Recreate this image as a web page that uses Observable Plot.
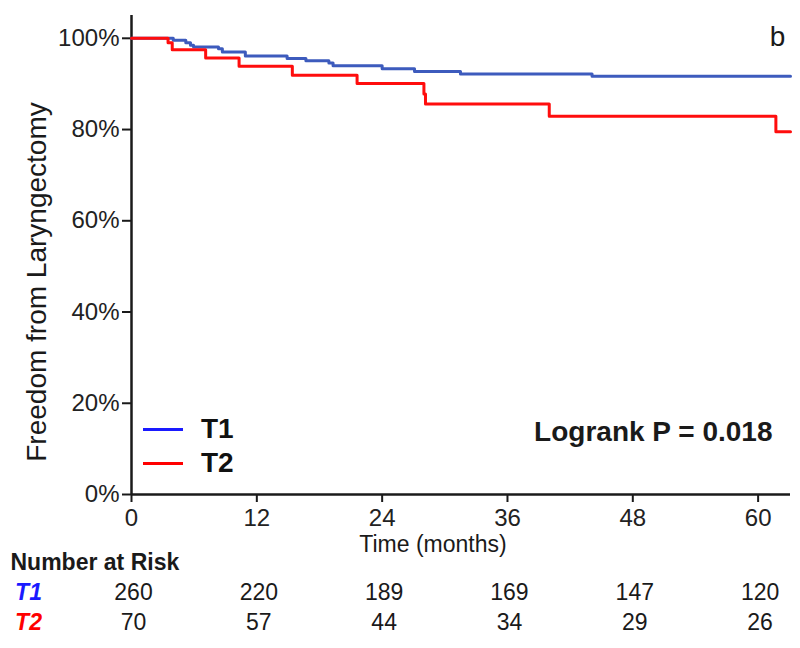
<!DOCTYPE html>
<html>
<head>
<meta charset="utf-8">
<script src="https://cdn.jsdelivr.net/npm/d3@7"></script>
<script src="https://cdn.jsdelivr.net/npm/@observablehq/plot@0.6"></script>
<style>
  html, body { margin: 0; padding: 0; background: #fff; }
  #wrap { position: relative; width: 800px; height: 648px; font-family: "Liberation Sans", Arial, sans-serif; }
  .lg-line { position: absolute; left: 143px; width: 40px; height: 3px; }
  .lg-text { position: absolute; left: 201px; font-size: 28px; font-weight: bold; line-height: 32px; color: #111; }
</style>
</head>
<body>
<div id="wrap"></div>
<script>
// ---- Data ----
const t1Times = [0, 4.0, 5.2, 5.65, 5.94, 8.33, 8.7, 10.9, 14.9, 16.7, 18.9, 19.3, 24.0, 27.1, 31.5, 44.1, 63.1];
const t1Surv  = [1, 0.996, 0.990, 0.985, 0.981, 0.977, 0.970, 0.961, 0.956, 0.951, 0.946, 0.940, 0.933, 0.927, 0.922, 0.917, 0.917];
const t2Times = [0, 3.5, 3.9, 7.1, 10.3, 15.4, 21.6, 28.0, 28.15, 40.0, 61.7, 63.1];
const t2Surv  = [1, 0.990, 0.975, 0.957, 0.939, 0.919, 0.901, 0.878, 0.856, 0.829, 0.795, 0.795];

const xTicks = [0, 12, 24, 36, 48, 60];
const yTicks = [0, 0.2, 0.4, 0.6, 0.8, 1.0];

const riskTimes = [0, 12, 24, 36, 48, 60];
const riskT1 = [260, 220, 189, 169, 147, 120];
const riskT2 = [70, 57, 44, 34, 29, 26];

const groupNames = ["T1", "T2"];
const pValueText = "Logrank P = 0.018";

// ---- Build tables ----
const s1 = t1Times.map((t, i) => ({t, s: t1Surv[i]}));
const s2 = t2Times.map((t, i) => ({t, s: t2Surv[i]}));

const blueCurve = "#3d5bbd";
const redCurve = "#ff0d0d";
const blueText = "#1a1aff";
const redText = "#ff0000";
const ink = "#1a1a1a";

const chart = Plot.plot({
  width: 800,
  height: 648,
  marginLeft: 131,
  marginRight: 10,
  marginTop: 15,
  marginBottom: 154,
  style: {fontFamily: "'Liberation Sans', Arial, sans-serif", fontSize: "23px", background: "white", color: ink},
  x: {domain: [0, 63.1]},
  y: {domain: [0, 1.05]},
  marks: [
    Plot.axisY({ticks: yTicks, tickFormat: d3.format(".0%"), tickSize: 9, tickPadding: 3, fontSize: 24, strokeWidth: 2, stroke: ink, fill: "#222", label: null}),
    Plot.axisX({ticks: xTicks, tickSize: 8, tickPadding: 6, fontSize: 24, strokeWidth: 2, stroke: ink, fill: "#222", label: null}),
    Plot.ruleX([0], {stroke: ink, strokeWidth: 2.5}),
    Plot.ruleY([0], {stroke: ink, strokeWidth: 2.5}),
    Plot.line(s1, {x: "t", y: "s", curve: "step-after", stroke: blueCurve, strokeWidth: 3}),
    Plot.line(s2, {x: "t", y: "s", curve: "step-after", stroke: redCurve, strokeWidth: 3}),
    // axis titles
    Plot.text(["Freedom from Laryngectomy"], {frameAnchor: "left", textAnchor: "middle", lineAnchor: "middle", rotate: -90, dx: -94, dy: 27, fontSize: 28, fill: ink}),
    Plot.text(["Time (months)"], {frameAnchor: "bottom", textAnchor: "middle", lineAnchor: "middle", dx: -28, dy: 50, fontSize: 23, fill: ink}),
    // panel letter & p-value
    Plot.text(["b"], {frameAnchor: "top-right", textAnchor: "middle", lineAnchor: "middle", dx: -13, dy: 22, fontSize: 28, fill: ink}),
    Plot.text([pValueText], {frameAnchor: "bottom-right", textAnchor: "end", lineAnchor: "middle", dx: -18, dy: -62, fontSize: 28, fontWeight: "bold", fill: ink}),
    // number at risk table
    Plot.text(["Number at Risk"], {frameAnchor: "bottom-left", textAnchor: "start", lineAnchor: "middle", dx: -121, dy: 68, fontSize: 23, fontWeight: "bold", fill: ink}),
    Plot.text([groupNames[0]], {frameAnchor: "bottom-left", textAnchor: "middle", lineAnchor: "middle", dx: -103, dy: 98, fontSize: 23, fontWeight: "bold", fontStyle: "italic", fill: blueText}),
    Plot.text([groupNames[1]], {frameAnchor: "bottom-left", textAnchor: "middle", lineAnchor: "middle", dx: -103, dy: 128, fontSize: 23, fontWeight: "bold", fontStyle: "italic", fill: redText}),
    Plot.text(riskTimes, {x: d => d, text: (d, i) => String(riskT1[i]), frameAnchor: "bottom", textAnchor: "middle", lineAnchor: "middle", dx: 2, dy: 98, fontSize: 23, fill: ink}),
    Plot.text(riskTimes, {x: d => d, text: (d, i) => String(riskT2[i]), frameAnchor: "bottom", textAnchor: "middle", lineAnchor: "middle", dx: 2, dy: 128, fontSize: 23, fill: ink})
  ]
});

const wrap = document.getElementById("wrap");
wrap.appendChild(chart);

// legend (inside plot area, lower left)
const legendColors = [blueText, redText];
const legendTops = [429, 463];
groupNames.forEach((name, i) => {
  const line = document.createElement("div");
  line.className = "lg-line";
  line.style.top = (legendTops[i] - 1) + "px";
  line.style.background = legendColors[i];
  wrap.appendChild(line);
  const txt = document.createElement("div");
  txt.className = "lg-text";
  txt.style.top = (legendTops[i] - 16) + "px";
  txt.textContent = name;
  wrap.appendChild(txt);
});
</script>
</body>
</html>
